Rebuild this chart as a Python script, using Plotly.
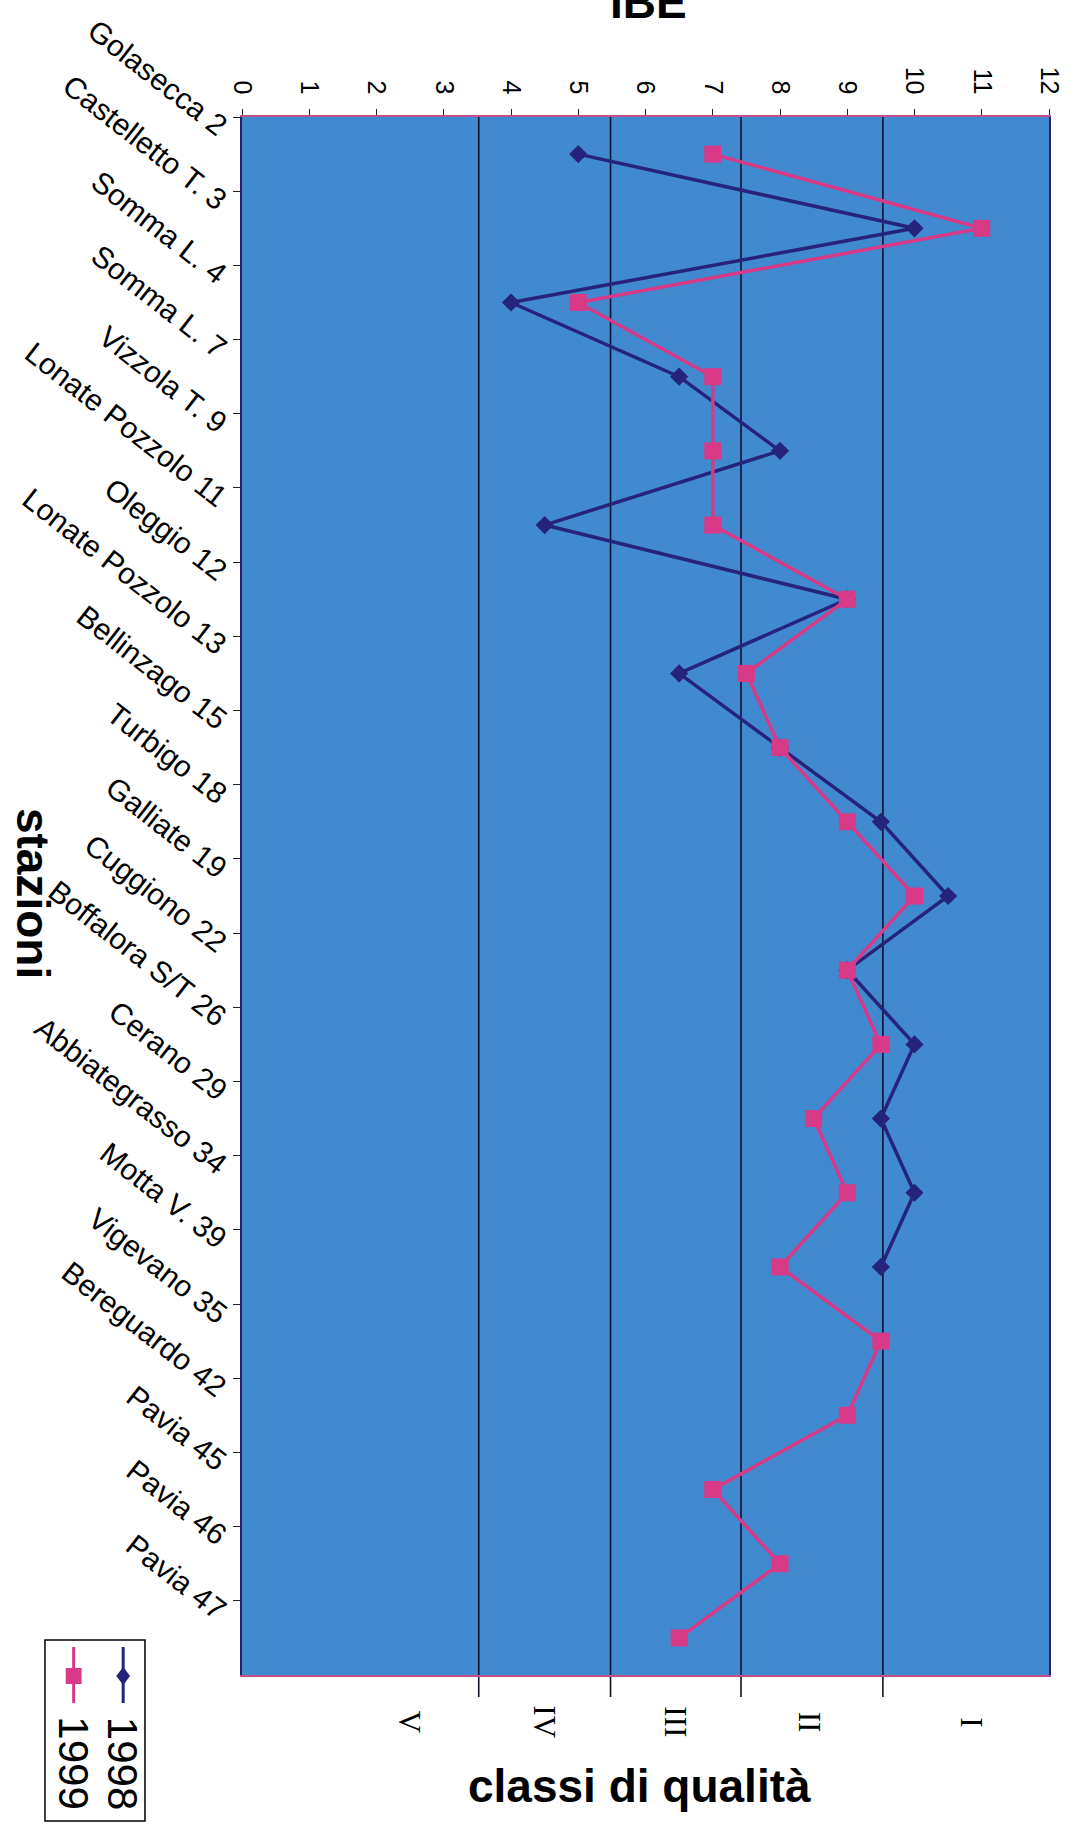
import plotly.graph_objects as go

# IBE monitoring stations along the river, upstream to downstream
stations = [
    "Golasecca 2", "Castelletto T. 3", "Somma L. 4", "Somma L. 7", "Vizzola T. 9",
    "Lonate Pozzolo 11", "Oleggio 12", "Lonate Pozzolo 13", "Bellinzago 15",
    "Turbigo 18", "Galliate 19", "Cuggiono 22", "Boffalora S/T 26", "Cerano 29",
    "Abbiategrasso 34", "Motta V. 39", "Vigevano 35", "Bereguardo 42",
    "Pavia 45", "Pavia 46", "Pavia 47",
]

ibe_1998 = [5, 10, 4, 6.5, 8, 4.5, 9, 6.5, 8, 9.5, 10.5, 9, 10, 9.5, 10, 9.5,
            None, None, None, None, None]
ibe_1999 = [7, 11, 5, 7, 7, 7, 9, 7.5, 8, 9, 10, 9, 9.5, 8.5, 9, 8, 9.5, 9, 7, 8, 6.5]

# quality-class boundaries on the IBE scale and the class labels
class_bounds = [3.52, 5.48, 7.42, 9.53]
class_names = ["V", "IV", "III", "II", "I"]
class_label_pos = [2.5, 4.5, 6.45, 8.45, 10.85]

ibe_ticks = list(range(0, 13))

NAVY = "#26237a"
PINK = "#d83a88"
BLUE_BG = "#428acf"
FONT = "Arial, Liberation Sans, sans-serif"

W, H = 1076, 1828
L, R, T, B = 242, 1057, 117, 1675
PW, PH = R - L, B - T


def px_x(p):
    return (p - L) / PW


def px_y(p):
    return (B - p) / PH


fig = go.Figure()

fig.add_trace(go.Scatter(
    x=ibe_1998, y=stations, mode="lines+markers", name="1998",
    line=dict(color=NAVY, width=3.5),
    marker=dict(symbol="diamond", size=14, color=NAVY),
    connectgaps=False, showlegend=False,
))
fig.add_trace(go.Scatter(
    x=ibe_1999, y=stations, mode="lines+markers", name="1999",
    line=dict(color=PINK, width=3.5),
    marker=dict(symbol="square", size=17, color=PINK),
    showlegend=False,
))

shapes = []
# class boundary lines, running a little past the bottom edge
for b in class_bounds:
    shapes.append(dict(type="line", xref="x", yref="paper", x0=b, x1=b,
                       y0=px_y(1697), y1=1, layer="below",
                       line=dict(color="#101030", width=1.6)))

annotations = []
# station labels, slanted
for s in stations:
    annotations.append(dict(
        text=s, x=px_x(236), xref="paper", y=s, yref="y",
        xanchor="right", yanchor="bottom", yshift=9,
        textangle=38, showarrow=False,
        font=dict(family=FONT, size=30, color="black"),
    ))

# class labels under the chart
for name, pos in zip(class_names, class_label_pos):
    annotations.append(dict(
        text=name, x=pos, xref="x", y=px_y(1722), yref="paper",
        xanchor="center", yanchor="middle", textangle=90, showarrow=False,
        font=dict(family="Times New Roman, Liberation Serif, serif", size=31, color="black"),
    ))

annotations += [
    dict(text="<b>classi di qualità</b>", x=px_x(643), y=px_y(1786),
         xref="paper", yref="paper", showarrow=False, xanchor="center", yanchor="middle",
         font=dict(family=FONT, size=46, color="black")),
    dict(text="<b>stazioni</b>", x=px_x(31), y=px_y(893),
         xref="paper", yref="paper", showarrow=False, xanchor="center", yanchor="middle",
         textangle=90, font=dict(family=FONT, size=46, color="black")),
    dict(text="<b>IBE</b>", x=px_x(653), y=px_y(2),
         xref="paper", yref="paper", showarrow=False, xanchor="center", yanchor="middle",
         font=dict(family=FONT, size=46, color="black")),
]

# legend box drawn by hand so its text can run vertically
shapes.append(dict(type="rect", xref="paper", yref="paper",
                   x0=px_x(43), x1=px_x(144), y0=px_y(1821), y1=px_y(1640),
                   line=dict(color="black", width=1.5), fillcolor="white"))
legend_items = [("1999", PINK, "square", 72), ("1998", NAVY, "diamond", 122)]
for label, color, sym, cx in legend_items:
    shapes.append(dict(type="line", xref="paper", yref="paper",
                       x0=px_x(cx), x1=px_x(cx), y0=px_y(1703), y1=px_y(1647),
                       line=dict(color=color, width=3)))
    if sym == "square":
        shapes.append(dict(type="rect", xref="paper", yref="paper",
                           x0=px_x(cx - 8), x1=px_x(cx + 8),
                           y0=px_y(1684), y1=px_y(1668),
                           line=dict(width=0), fillcolor=color))
    else:
        cy = 1676
        path = "M {} {} L {} {} L {} {} L {} {} Z".format(
            px_x(cx), px_y(cy - 9), px_x(cx + 7), px_y(cy),
            px_x(cx), px_y(cy + 9), px_x(cx - 7), px_y(cy))
        shapes.append(dict(type="path", xref="paper", yref="paper", path=path,
                           line=dict(width=0), fillcolor=color))
    annotations.append(dict(
        text=label, x=px_x(cx), y=px_y(1763), xref="paper", yref="paper",
        xanchor="center", yanchor="middle", textangle=90, showarrow=False,
        font=dict(family=FONT, size=42, color="black"),
    ))

fig.update_layout(
    width=W, height=H,
    margin=dict(l=L, r=W - R, t=T, b=H - B, pad=0),
    paper_bgcolor="white",
    plot_bgcolor=BLUE_BG,
    shapes=shapes,
    annotations=annotations,
    showlegend=False,
    xaxis=dict(
        range=[0, 12], side="top", tickvals=ibe_ticks, tickangle=90,
        ticks="outside", ticklen=6, tickcolor="#222", tickwidth=1,
        tickfont=dict(family=FONT, size=25, color="black"),
        ticklabelstandoff=6,
        showgrid=False, zeroline=False,
        showline=True, linecolor="#c0508a", linewidth=1.5, mirror=True,
        fixedrange=True,
    ),
    yaxis=dict(
        type="category", categoryorder="array", categoryarray=stations,
        range=[len(stations) - 0.5, -0.5], autorange=False, tickson="boundaries",
        ticks="outside", ticklen=7, tickcolor="#222", tickwidth=1,
        showticklabels=False, showgrid=False, zeroline=False,
        showline=True, linecolor="#2a1f5e", linewidth=1.5, mirror=True,
        fixedrange=True,
    ),
)

fig.write_html("out.html")
